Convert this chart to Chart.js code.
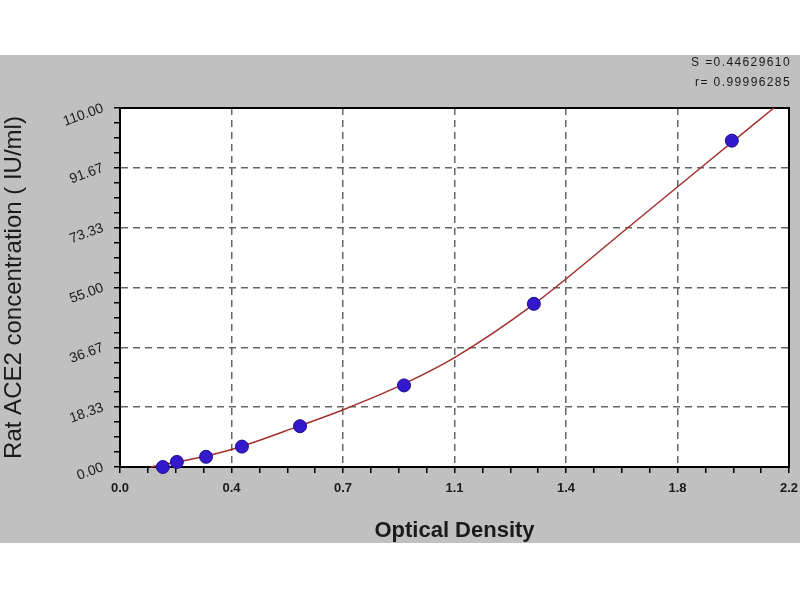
<!DOCTYPE html>
<html lang="en">
<head>
    <meta charset="UTF-8">
    <title>Rat ACE2 standard curve</title>
    <style>
        body {
            margin: 0;
            background: #fff;
            font-family: 'Liberation Sans', Arial, sans-serif;
        }
        #band {
            position: absolute;
            left: 0;
            top: 55px;
            width: 800px;
            height: 488px;
            background: #c0c0c0;
        }
        .fitinfo {
            position: absolute;
            right: 9px;
            font-size: 12px;
            letter-spacing: 1.4px;
            color: #1a1a1a;
            line-height: 14px;
        }
    </style>
</head>
<body>
    <div id="band">
        <canvas id="curve" width="800" height="488"></canvas>
    </div>
    <div class="fitinfo" style="top: 55px;">S =0.44629610</div>
    <div class="fitinfo" style="top: 75px;">r= 0.99996285</div>

    <script src="https://cdn.jsdelivr.net/npm/chart.js"></script>
    <script>
        // axis setup
        const xTickLabels = ['0.0', '0.4', '0.7', '1.1', '1.4', '1.8', '2.2'];
        const yTickLabels = ['0.00', '18.33', '36.67', '55.00', '73.33', '91.67', '110.00'];
        const xMax = 2.2;
        const yMax = 110;
        const minorPerMajor = 4;

        // standards (OD vs concentration)
        const stdOD = [0.141, 0.187, 0.283, 0.401, 0.592, 0.934, 1.361, 2.012];
        const stdConc = [0, 1.56, 3.13, 6.25, 12.5, 25, 50, 100];

        // fitted curve
        const fitOD = [0.10, 0.19, 0.28, 0.40, 0.59, 0.73, 0.93, 1.10, 1.36, 1.67, 1.91, 2.15];
        const fitConc = [0, 1.6, 3.3, 6.3, 12.6, 17.4, 25.3, 33.5, 49.8, 73.3, 91.7, 110];

        function withMinorTicks(max, labels) {
            const n = (labels.length - 1) * minorPerMajor;
            return Array.from({ length: n + 1 }, (_, i) => ({ value: max * i / n }));
        }

        function gridColor(ctx, labels) {
            const last = (labels.length - 1) * minorPerMajor;
            if (ctx.index === 0 || ctx.index === last) return 'transparent';
            return ctx.index % minorPerMajor === 0 ? '#666666' : 'transparent';
        }

        // white plot area + black frame around it
        const plotFrame = {
            id: 'plotFrame',
            beforeDraw(chart) {
                const { ctx, chartArea: a } = chart;
                ctx.save();
                ctx.fillStyle = '#ffffff';
                ctx.fillRect(a.left, a.top, a.right - a.left, a.bottom - a.top);
                ctx.restore();
            },
            beforeDatasetsDraw(chart) {
                const { ctx, chartArea: a } = chart;
                ctx.save();
                ctx.strokeStyle = '#000';
                ctx.lineWidth = 2;
                ctx.strokeRect(a.left, a.top, a.right - a.left, a.bottom - a.top);
                ctx.restore();
            }
        };

        const ctx = document.getElementById('curve').getContext('2d');
        new Chart(ctx, {
            type: 'scatter',
            data: {
                datasets: [
                    {
                        label: 'Standards',
                        data: stdOD.map((x, i) => ({ x: x, y: stdConc[i] })),
                        backgroundColor: '#3318cc',
                        borderColor: '#1d0e8c',
                        borderWidth: 1,
                        pointRadius: 6.5,
                        clip: false
                    },
                    {
                        label: 'Fit',
                        data: fitOD.map((x, i) => ({ x: x, y: fitConc[i] })),
                        showLine: true,
                        borderColor: '#a3302c',
                        borderWidth: 1.5,
                        pointRadius: 0,
                        cubicInterpolationMode: 'monotone',
                        clip: false
                    }
                ]
            },
            options: {
                responsive: false,
                animation: false,
                layout: { padding: { top: 53, right: 11, left: 0, bottom: 0 } },
                plugins: {
                    legend: { display: false },
                    tooltip: { enabled: false }
                },
                scales: {
                    x: {
                        type: 'linear',
                        min: 0,
                        max: xMax,
                        afterBuildTicks: s => { s.ticks = withMinorTicks(xMax, xTickLabels); },
                        afterFit: s => {
                            s.height = 76;
                            s.paddingLeft = 0;
                            s.paddingRight = 0;
                        },
                        ticks: {
                            autoSkip: false,
                            maxRotation: 0,
                            padding: 8,
                            color: '#1a1a1a',
                            font: { family: "'Liberation Sans', Arial", size: 13, weight: 'bold' },
                            callback: (v, i) => i % minorPerMajor === 0 ? xTickLabels[i / minorPerMajor] : ''
                        },
                        grid: {
                            color: c => gridColor(c, xTickLabels),
                            lineWidth: 1.5,
                            tickLength: 6,
                            tickColor: '#000',
                            tickWidth: 1.5
                        },
                        border: { color: '#000', width: 2, dash: [7, 5] },
                        title: {
                            display: true,
                            text: 'Optical Density',
                            color: '#1a1a1a',
                            font: { family: "'Liberation Sans', Arial", size: 22, weight: 'bold', lineHeight: 1 },
                            padding: { top: 0, bottom: 1 }
                        }
                    },
                    y: {
                        type: 'linear',
                        min: 0,
                        max: yMax,
                        afterBuildTicks: s => { s.ticks = withMinorTicks(yMax, yTickLabels); },
                        afterFit: s => { s.width = 120; },
                        ticks: {
                            autoSkip: false,
                            minRotation: 20,
                            maxRotation: 20,
                            padding: 11,
                            color: '#1a1a1a',
                            font: { family: "'Liberation Sans', Arial", size: 14 },
                            callback: (v, i) => i % minorPerMajor === 0 ? yTickLabels[i / minorPerMajor] : ''
                        },
                        grid: {
                            color: c => gridColor(c, yTickLabels),
                            lineWidth: 1.5,
                            tickLength: 6,
                            tickColor: '#000',
                            tickWidth: 1.5
                        },
                        border: { color: '#000', width: 2, dash: [7, 5] },
                        title: {
                            display: true,
                            text: 'Rat ACE2 concentration ( IU/ml)',
                            color: '#1a1a1a',
                            font: { family: "'Liberation Sans', Arial", size: 24, lineHeight: 1 },
                            padding: { top: 2, bottom: 0 }
                        }
                    }
                }
            },
            plugins: [plotFrame]
        });
    </script>
</body>
</html>
